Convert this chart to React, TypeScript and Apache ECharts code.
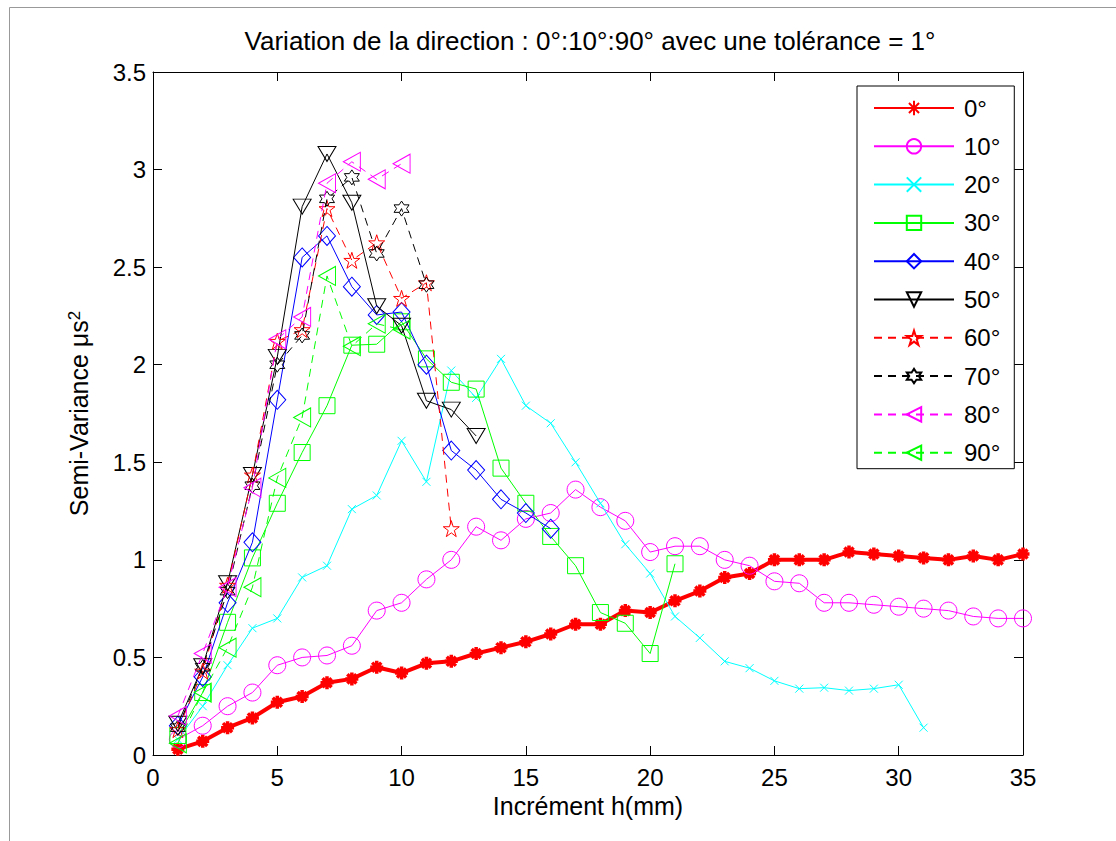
import React, { useEffect, useRef } from 'react';
import * as echarts from 'echarts';

// ---- data ----
const H = [1, 2, 3, 4, 5, 6, 7, 8, 9, 10, 11, 12, 13, 14, 15, 16, 17, 18, 19, 20, 21, 22, 23, 24, 25, 26, 27, 28, 29, 30, 31, 32, 33, 34, 35];
const seriesNames = ['0°', '10°', '20°', '30°', '40°', '50°', '60°', '70°', '80°', '90°'];
const v0 = [0.03, 0.07, 0.14, 0.19, 0.27, 0.30, 0.37, 0.39, 0.45, 0.42, 0.47, 0.48, 0.52, 0.55, 0.58, 0.62, 0.67, 0.67, 0.74, 0.73, 0.79, 0.84, 0.91, 0.93, 1.00, 1.00, 1.00, 1.04, 1.03, 1.02, 1.01, 1.00, 1.02, 1.00, 1.03];
const v10 = [0.08, 0.15, 0.25, 0.32, 0.46, 0.50, 0.51, 0.56, 0.74, 0.78, 0.90, 1.00, 1.17, 1.10, 1.21, 1.24, 1.36, 1.27, 1.20, 1.04, 1.07, 1.07, 1.00, 0.97, 0.89, 0.88, 0.78, 0.78, 0.77, 0.76, 0.75, 0.74, 0.71, 0.70, 0.70];
const v20 = [0.08, 0.25, 0.46, 0.65, 0.70, 0.91, 0.97, 1.26, 1.33, 1.61, 1.40, 1.97, 1.83, 2.03, 1.79, 1.70, 1.50, 1.29, 1.08, 0.93, 0.71, 0.60, 0.48, 0.445, 0.38, 0.34, 0.345, 0.33, 0.34, 0.36, 0.14];
const v30 = [0.10, 0.32, 0.68, 1.01, 1.29, 1.55, 1.79, 2.10, 2.105, 2.22, 2.03, 1.91, 1.875, 1.47, 1.29, 1.12, 0.97, 0.73, 0.675, 0.52, 0.98];
const v40 = [0.15, 0.40, 0.78, 1.09, 1.82, 2.55, 2.66, 2.40, 2.255, 2.27, 2.00, 1.56, 1.46, 1.31, 1.24, 1.16];
const v50 = [0.16, 0.455, 0.88, 1.435, 2.04, 2.81, 3.08, 2.83, 2.30, 2.20, 1.815, 1.77, 1.635];
const v60 = [0.13, 0.43, 0.87, 1.435, 2.12, 2.18, 2.80, 2.535, 2.625, 2.34, 2.42, 1.16];
const v70 = [0.14, 0.45, 0.84, 1.38, 2.00, 2.15, 2.85, 2.96, 2.57, 2.80, 2.41];
const v80 = [0.20, 0.52, 0.86, 1.37, 2.13, 2.245, 2.93, 3.04, 2.95, 3.03];
const v90 = [0.06, 0.32, 0.55, 0.86, 1.42, 1.73, 2.455, 2.095, 2.21, 2.18];
const allValues = [v0, v10, v20, v30, v40, v50, v60, v70, v80, v90];

const xMin = 0, xMax = 35, xStep = 5;
const yMin = 0, yMax = 3.5, yStep = 0.5;

const titleText = 'Variation de la direction : 0°:10°:90° avec une tolérance = 1°';
const xName = 'Incrément h(mm)';
const yName = 'Semi-Variance μs{s|2}';

// ---- marker shapes ----
function starPath(points: number, inner: number) {
  let d = '';
  for (let i = 0; i < points * 2; i++) {
    const r = i % 2 === 0 ? 10 : 10 * inner;
    const a = -Math.PI / 2 + (i * Math.PI) / points;
    const px = (10 + r * Math.cos(a)).toFixed(2);
    const py = (10 + r * Math.sin(a)).toFixed(2);
    d += (i === 0 ? 'M' : 'L') + px + ',' + py;
  }
  return 'path://' + d + 'Z';
}
const PENTA = starPath(5, 0.382);
const HEXA = starPath(6, 0.577);
const XMARK = 'path://M0,0L10,10M10,0L0,10';
const ASTER = 'path://M5,0L5,10M0,5L10,5M1.5,1.5L8.5,8.5M1.5,8.5L8.5,1.5';

type Sty = { color: string; symbol: string; size: number | number[]; rotate?: number; dashed?: boolean; width?: number; bw?: number };
const styles: Sty[] = [
  { color: '#ff0000', symbol: ASTER, size: 13, width: 4, bw: 3.5 },
  { color: '#ff00ff', symbol: 'circle', size: 17 },
  { color: '#00ffff', symbol: XMARK, size: 8 },
  { color: '#00ff00', symbol: 'rect', size: 16 },
  { color: '#0000ff', symbol: 'diamond', size: [17, 19] },
  { color: '#000000', symbol: 'triangle', size: [18, 15], rotate: 180 },
  { color: '#ff0000', symbol: PENTA, size: 16, dashed: true },
  { color: '#000000', symbol: HEXA, size: 15, dashed: true },
  { color: '#ff00ff', symbol: 'triangle', size: [19, 17], rotate: 90, dashed: true },
  { color: '#00ff00', symbol: 'triangle', size: [19, 17], rotate: 90, dashed: true },
];

const FONT = 'Liberation Sans, Arial, Helvetica, sans-serif';

export default function App() {
  const ref = useRef<HTMLDivElement>(null);
  useEffect(() => {
    if (!ref.current) return;
    const chart = echarts.init(ref.current, undefined, { renderer: 'svg' });
    const series = allValues.map((vals, i) => {
      const s = styles[i];
      return {
        name: seriesNames[i],
        type: 'line',
        xAxisIndex: 0,
        yAxisIndex: 0,
        data: vals.map((v, k) => [H[k], v]),
        symbol: s.symbol,
        symbolSize: s.size,
        symbolRotate: s.rotate || 0,
        showAllSymbol: true,
        lineStyle: { color: s.color, width: s.width || 1, type: s.dashed ? [8, 6] : 'solid' },
        itemStyle: { color: 'transparent', borderColor: s.color, borderWidth: s.bw || 1 },
        emphasis: { disabled: true },
        z: 2 + i,
      };
    });
    const axisCommon = {
      type: 'value',
      axisLine: { show: true, onZero: false, lineStyle: { color: '#000', width: 1 } },
      axisTick: { show: true, inside: true, length: 9, lineStyle: { color: '#000' } },
      splitLine: { show: false },
    };
    chart.setOption({
      animation: false,
      textStyle: { fontFamily: FONT },
      title: {
        text: titleText,
        left: 590,
        top: 28,
        textAlign: 'center',
        padding: 0,
        textStyle: { fontSize: 26, fontWeight: 'normal', color: '#000', fontFamily: FONT },
      },
      grid: { left: 153, top: 72, right: 93, bottom: 86, show: false },
      xAxis: [
        {
          ...axisCommon,
          position: 'bottom',
          min: xMin, max: xMax, interval: xStep,
          axisLabel: { show: true, margin: 10, fontSize: 24, color: '#000', fontFamily: FONT },
          name: xName,
          nameLocation: 'middle',
          nameGap: 38,
          nameTextStyle: { fontSize: 25, color: '#000', fontFamily: FONT },
        },
        {
          ...axisCommon,
          position: 'top',
          min: xMin, max: xMax, interval: xStep,
          axisLabel: { show: false },
        },
      ],
      yAxis: [
        {
          ...axisCommon,
          position: 'left',
          min: yMin, max: yMax, interval: yStep,
          axisLabel: { show: true, margin: 7, fontSize: 24, color: '#000', fontFamily: FONT },
          name: yName,
          nameLocation: 'middle',
          nameGap: 62,
          nameTextStyle: {
            fontSize: 25, color: '#000', fontFamily: FONT,
            rich: { s: { fontSize: 17, verticalAlign: 'top', color: '#000', fontFamily: FONT } },
          },
        },
        {
          ...axisCommon,
          position: 'right',
          min: yMin, max: yMax, interval: yStep,
          axisLabel: { show: false },
        },
      ],
      legend: {
        orient: 'vertical',
        left: 857,
        top: 86,
        padding: [10, 14, 4, 16],
        itemWidth: 80,
        itemHeight: 18,
        itemGap: 14.3,
        selectedMode: false,
        borderColor: '#000',
        borderWidth: 1,
        backgroundColor: '#fff',
        textStyle: { fontSize: 24, color: '#000', fontFamily: FONT, lineHeight: 18, padding: [0, 0, 0, 5] },
        data: seriesNames,
      },
      graphic: [
        {
          type: 'rect',
          silent: true,
          shape: { x: 9.5, y: 7.5, width: 1200, height: 1000 },
          style: { fill: 'none', stroke: '#999', lineWidth: 1 },
        },
      ],
      series,
    });
    return () => chart.dispose();
  }, []);
  return <div ref={ref} style={{ position: 'fixed', left: 0, top: 0, width: 1116, height: 841, background: '#fff' }} />;
}
